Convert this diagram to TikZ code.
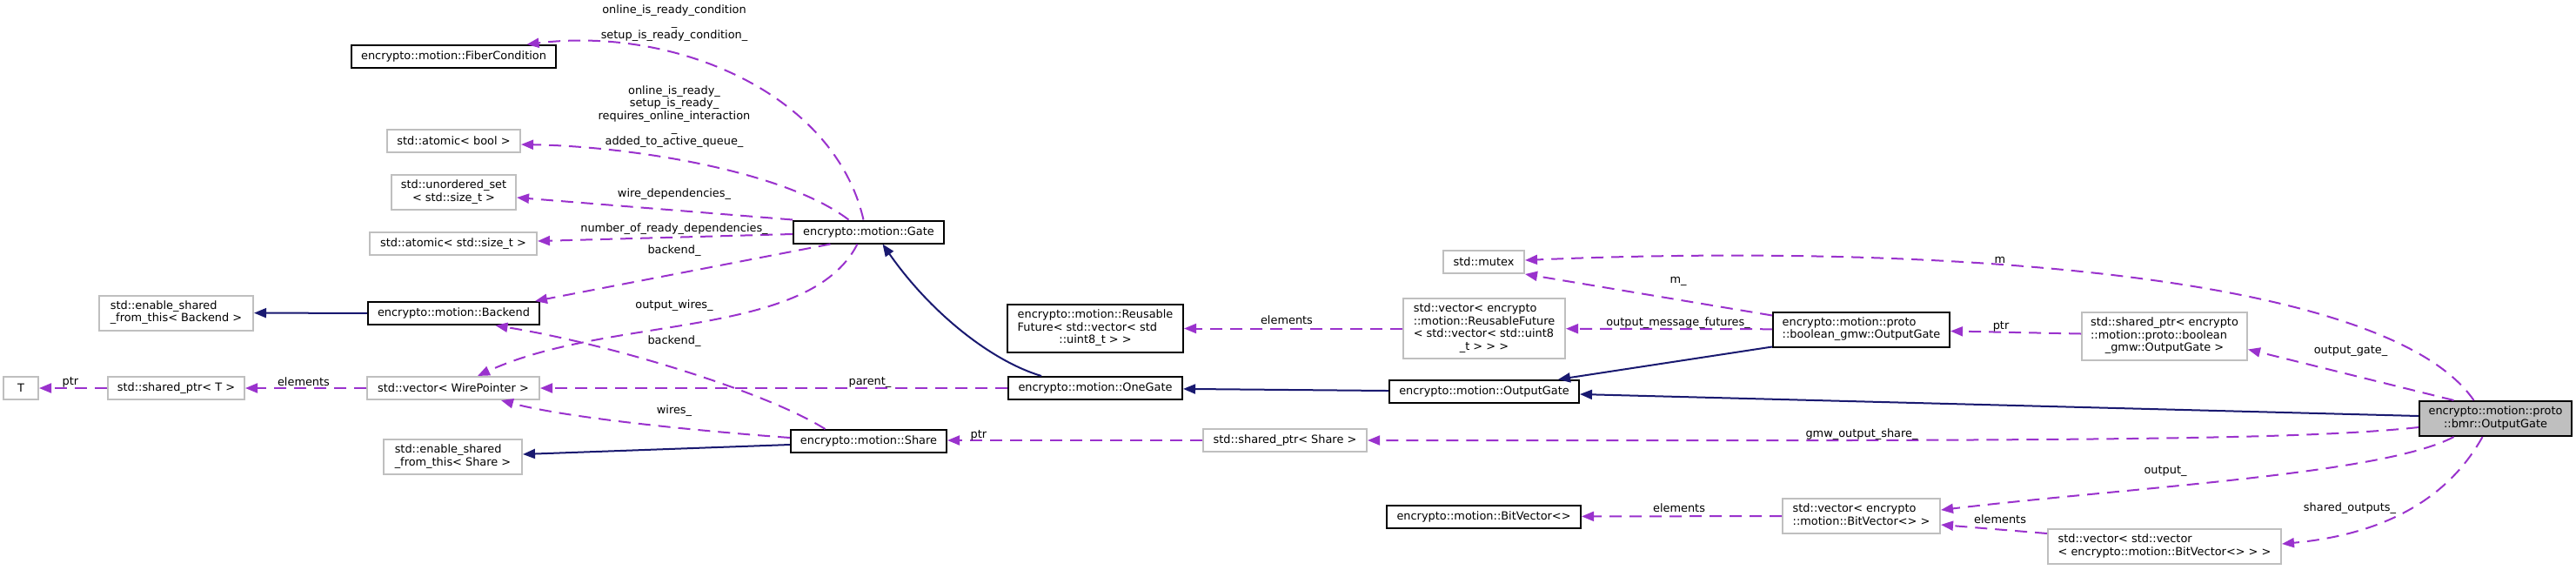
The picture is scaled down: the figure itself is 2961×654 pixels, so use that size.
\documentclass[tikz,border=0pt]{standalone}
\usepackage{fontspec}
\setmainfont{DejaVu Sans}
\usetikzlibrary{arrows.meta}
\definecolor{memline}{HTML}{9A32CD}
\definecolor{inhline}{HTML}{191970}
\definecolor{extline}{HTML}{BFBFBF}
\definecolor{mainfill}{HTML}{BFBFBF}
\newcommand{\dfont}{\fontsize{7.34pt}{8.25pt}\selectfont}
\newcommand{\boxlines}[2]{\begin{tabular}{@{}l@{}}#1\\\multicolumn{1}{@{}c@{}}{#2}\end{tabular}}

\begin{document}
\begin{tikzpicture}[x=0.2mm,y=-0.2mm,
    cls/.style={draw=black,line width=0.4mm,fill=white,minimum height=5.2mm,inner xsep=1.2mm,inner ysep=1.1mm,font=\dfont},
    ext/.style={cls,draw=extline},
    focus/.style={cls,fill=mainfill},
    memb/.style={-{Triangle[length=2.8mm,width=2.2mm]},draw=memline,line width=0.4mm,dash pattern=on 2.8mm off 1.8mm},
    inh/.style={-{Triangle[length=2.8mm,width=2.2mm]},draw=inhline,line width=0.4mm},
    lab/.style={font=\dfont,align=center,inner sep=0pt}
  ]
  \useasboundingbox[fill=white] (0,0) rectangle (2961,654);

  \node[cls,minimum width=47mm] (fiber) at (521.5,65) {encrypto::motion::FiberCondition};
  \node[ext,minimum width=30.6mm] (atbool) at (521.5,162) {std::atomic< bool >};
  \node[ext,minimum width=28.6mm] (uset) at (521.5,221) {\boxlines{std::unordered\_set}{< std::size\_t >}};
  \node[ext,minimum width=38.4mm] (atsize) at (521,280) {std::atomic< std::size\_t >};
  \node[cls,minimum width=34.6mm] (gate) at (998.5,266.5) {encrypto::motion::Gate};
  \node[ext,minimum width=35.4mm] (esftb) at (202.5,359.5) {\boxlines{std::enable\_shared}{\_from\_this< Backend >}};
  \node[cls,minimum width=39.4mm] (backend) at (521.5,360) {encrypto::motion::Backend};
  \node[ext,minimum width=8mm] (t) at (24,446) {T};
  \node[ext,minimum width=31.4mm] (sptrt) at (202.5,446) {std::shared\_ptr< T >};
  \node[ext,minimum width=39.6mm] (vecwp) at (521,446) {std::vector< WirePointer >};
  \node[ext,minimum width=31.8mm] (esfts) at (520.5,525) {\boxlines{std::enable\_shared}{\_from\_this< Share >}};
  \node[cls,minimum width=35.8mm] (share) at (998.5,507) {encrypto::motion::Share};
  \node[cls,minimum width=40mm] (onegate) at (1259,446) {encrypto::motion::OneGate};
  \node[cls,minimum width=40.4mm] (reusable) at (1259,377.5) {\boxlines{encrypto::motion::Reusable\\Future< std::vector< std}{::uint8\_t > >}};
  \node[ext,minimum width=37.6mm] (sptrshare) at (1477,506) {std::shared\_ptr< Share >};
  \node[ext,minimum width=18.6mm] (mutex) at (1705.5,301) {std::mutex};
  \node[ext,minimum width=37.2mm] (vecrf) at (1706,377.5) {\boxlines{std::vector< encrypto\\::motion::ReusableFuture\\< std::vector< std::uint8}{\_t > > >}};
  \node[cls,minimum width=43.6mm] (outgate) at (1706,450) {encrypto::motion::OutputGate};
  \node[cls,minimum width=44.6mm] (bitvec) at (1705.5,593.5) {encrypto::motion::BitVector<>};
  \node[cls,minimum width=40.6mm] (gmwout) at (2139.5,378.5) {\boxlines{encrypto::motion::proto}{::boolean\_gmw::OutputGate}};
  \node[ext,minimum width=36.2mm] (vecbv) at (2139.5,593) {\boxlines{std::vector< encrypto}{::motion::BitVector<> >}};
  \node[ext,minimum width=38mm] (sptrgmw) at (2488,386.5) {\boxlines{std::shared\_ptr< encrypto\\::motion::proto::boolean}{\_gmw::OutputGate >}};
  \node[ext,minimum width=53.6mm] (vecvec) at (2488,628) {\boxlines{std::vector< std::vector}{< encrypto::motion::BitVector<> > >}};
  \node[focus,minimum width=35mm] (bmr) at (2868.5,481) {\boxlines{encrypto::motion::proto}{::bmr::OutputGate}};

  % members
  \draw[memb] ([shift={(-6,0)}]gate.north) .. controls (960,110) and (780,30) .. ([shift={(84,0)}]fiber.north)
    node[lab] at (775,26.5) {online\_is\_ready\_condition\\\_\\setup\_is\_ready\_condition\_};
  \draw[memb] ([shift={(-23,0)}]gate.north) .. controls (900,195) and (720,168) .. ([shift={(0,4)}]atbool.east)
    node[lab] at (775,134) {online\_is\_ready\_\\setup\_is\_ready\_\\requires\_online\_interaction\\\_\\added\_to\_active\_queue\_};
  \draw[memb] (gate.north west) -- ([shift={(0,6)}]uset.east) node[lab] at (775,223) {wire\_dependencies\_};
  \draw[memb] ([shift={(0,2.5)}]gate.west) -- ([shift={(0,-3)}]atsize.east) node[lab] at (775,263) {number\_of\_ready\_dependencies\_};
  \draw[memb] ([shift={(-44,0)}]gate.south) -- ([shift={(-6,0)}]backend.north east) node[lab] at (775,288) {backend\_};
  \draw[memb] ([shift={(-13,0)}]gate.south) .. controls (930,390) and (700,362) .. ([shift={(28,0)}]vecwp.north) node[lab] at (775,351) {output\_wires\_};
  \draw[memb] ([shift={(-50,0)}]share.north) .. controls (880,450) and (700,395) .. ([shift={(48,0)}]backend.south) node[lab] at (775,392) {backend\_};
  \draw[memb] ([shift={(0,-4)}]share.west) .. controls (800,495) and (650,480) .. ([shift={(55,0)}]vecwp.south) node[lab] at (775,472) {wires\_};
  \draw[memb] (onegate) -- (vecwp) node[lab] at (1000,439) {parent\_};
  \draw[memb] (sptrshare.west) -- (share.east |- sptrshare.west) node[lab] at (1125,500) {ptr};
  \draw[memb] (vecwp) -- (sptrt) node[lab] at (349,439) {elements};
  \draw[memb] (sptrt) -- (t) node[lab] at (81,439) {ptr};
  \draw[memb] (vecrf) -- (reusable) node[lab] at (1479,368) {elements};
  \draw[memb] (gmwout) -- (vecrf) node[lab] at (1929,371) {output\_message\_futures\_};
  \draw[memb] ([shift={(0,5)}]gmwout.north west) -- (mutex.south east) node[lab] at (1929,323) {m\_};
  \draw[memb] ([shift={(-25,0)}]bmr.north) .. controls (2740,310) and (2200,280) .. ([shift={(0,-2)}]mutex.east) node[lab] at (2299,299) {m};
  \draw[memb] ([shift={(-48,0)}]bmr.north) -- ([shift={(0,15)}]sptrgmw.east) node[lab] at (2702,403) {output\_gate\_};
  \draw[memb] ([shift={(0,-3)}]sptrgmw.west) -- ([shift={(0,2)}]gmwout.east) node[lab] at (2300,375) {ptr};
  \draw[memb] ([shift={(0,10)}]bmr.west) .. controls (2650,505) and (2400,507) .. (sptrshare.east) node[lab] at (2140,499) {gmw\_output\_share\_};
  \draw[memb] ([shift={(-48,0)}]bmr.south) .. controls (2740,545) and (2450,560) .. ([shift={(0,-7)}]vecbv.east) node[lab] at (2489,541) {output\_};
  \draw[memb] ([shift={(0,6)}]vecvec.north west) -- ([shift={(0,10)}]vecbv.east) node[lab] at (2299,597) {elements};
  \draw[memb] ([shift={(-15,0)}]bmr.south) .. controls (2810,580) and (2730,615) .. ([shift={(0,-3)}]vecvec.east) node[lab] at (2701,584) {shared\_outputs\_};
  \draw[memb] (vecbv) -- (bitvec) node[lab] at (1930,584) {elements};

  % inheritance
  \draw[inh] (backend) -- (esftb);
  \draw[inh] ([shift={(0,4)}]share.west) -- ([shift={(0,-3)}]esfts.east);
  \draw[inh] ([shift={(-62,0)}]onegate.north) .. controls (1140,415) and (1070,360) .. ([shift={(16,0)}]gate.south);
  \draw[inh] (outgate) -- (onegate);
  \draw[inh] ([shift={(0,-1)}]gmwout.south west) -- ([shift={(85,0)}]outgate.north);
  \draw[inh] ([shift={(0,-3)}]bmr.west) -- ([shift={(0,3)}]outgate.east);
\end{tikzpicture}
\end{document}
